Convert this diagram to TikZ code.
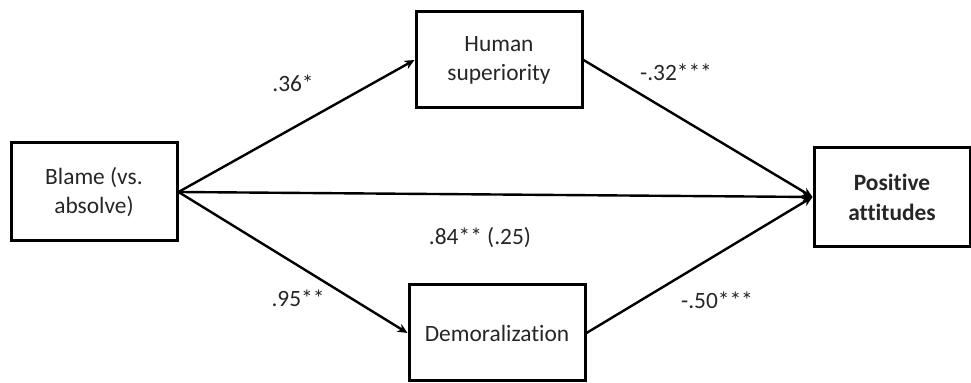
\documentclass[tikz,border=0pt]{standalone}
\usepackage{fontspec}
\setmainfont{Carlito}[Ligatures=NoCommon]
\usepackage{xcolor}
\usepackage{tikz}
\usetikzlibrary{arrows.meta}
\definecolor{inkgray}{RGB}{38,38,38}
\tikzset{
    var/.style={draw=black, line width=1.5pt, fill=white, align=center, text=inkgray,
        font=\fontsize{11.7}{14.5}\selectfont, inner sep=0pt},
    path/.style={line width=1.2pt, -{Stealth[length=5pt,width=4.5pt]}},
    coef/.style={text=inkgray, font=\fontsize{11.7}{14}\selectfont}
}

\begin{document}
\begin{tikzpicture}[x=0.5pt,y=-0.5pt]
    % Canvas
    \useasboundingbox (0,0) rectangle (971,383);

    % Variables
    \node[var, minimum width=83pt, minimum height=49pt] (blame) at (94,192) {Blame (vs.\\absolve)};
    \node[var, minimum width=83pt, minimum height=48pt] (human) at (499,60) {Human\\superiority};
    \node[var, minimum width=88pt, minimum height=48pt] (demoral) at (497,333) {Demoralization};
    \node[var, minimum width=78pt, minimum height=49.5pt, font=\fontsize{11.7}{15}\selectfont\bfseries] (attitudes) at (892,197) {Positive\\attitudes};

    % Paths
    \draw[path] (blame.east) -- (human.west);
    \draw[path] (blame.east) -- (demoral.west);
    \draw[path] (blame.east) -- (attitudes.west);
    \draw[path] (human.east) -- (attitudes.west);
    \draw[path] (demoral.east) -- (attitudes.west);

    % Coefficients
    \node[coef] (a1) at (293,83) {.36*};
    \node[coef] (b1) at (676,72) {-.32***};
    \node[coef] (c1) at (480,238) {.84** (.25)};
    \node[coef] (a2) at (298,298) {.95**};
    \node[coef] (b2) at (717,300) {-.50***};
\end{tikzpicture}
\end{document}
